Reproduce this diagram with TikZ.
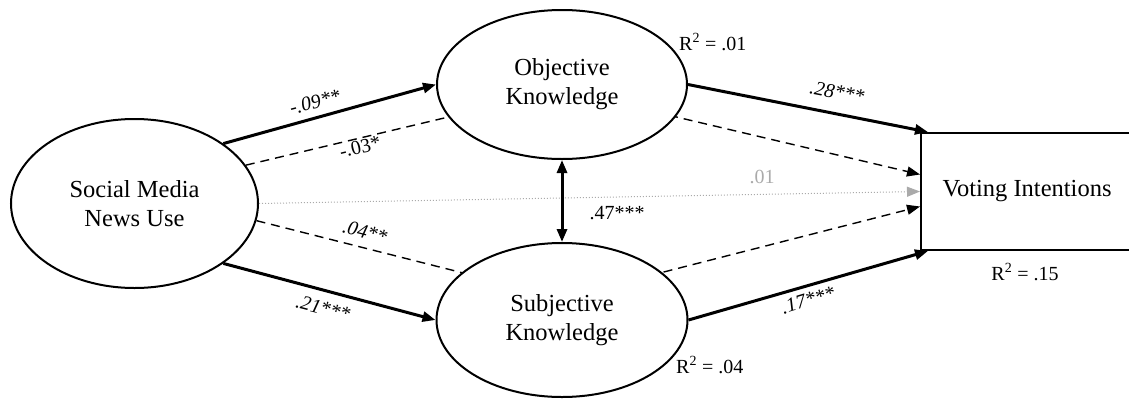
\documentclass[tikz,border=0pt]{standalone}
\usepackage{fontspec}
\setmainfont{Liberation Serif}
\usetikzlibrary{arrows.meta,calc,shapes.geometric}
\pgfdeclarelayer{bg}
\pgfsetlayers{bg,main}
\definecolor{lgray}{HTML}{AAAAAA}
\tikzset{
  latent/.style={ellipse,draw,line width=2pt,fill=white,inner sep=0pt,align=center,
    font=\fontsize{24.5}{29}\selectfont},
  observed/.style={rectangle,draw,line width=2pt,fill=white,inner sep=0pt,
    font=\fontsize{24.5}{29}\selectfont},
  tip/.style={-{Triangle[length=13pt,width=10pt]}},
  direct/.style={tip,line width=3pt},
  indirect/.style={tip,line width=1.4pt,dash pattern=on 9pt off 6pt},
  faint/.style={-{Triangle[length=13pt,width=10pt]},line width=1pt,lgray,dotted},
  coef/.style={font=\fontsize{20}{24}\selectfont,inner sep=1pt},
  coefit/.style={coef,font=\fontsize{20}{24}\selectfont\itshape},
}
\begin{document}
\begin{tikzpicture}[x=1pt,y=-1pt]
\useasboundingbox (0,0) rectangle (1129,399);
\clip (0,0) rectangle (1129,399);
% nodes
\node[latent,minimum width=247pt,minimum height=169pt] (sm) at (134.5,203.5) {Social Media\\News Use};
\node[latent,minimum width=250pt,minimum height=149pt] (ok) at (562,84.5) {Objective\\Knowledge};
\node[latent,minimum width=251pt,minimum height=154pt] (sk) at (562,320) {Subjective\\Knowledge};
\node[observed,minimum width=212pt,minimum height=117pt] (vi) at (1027,191.5) {Voting Intentions};
\coordinate (oka) at (562,90);
\coordinate (ska) at (562,298);
% indirect paths behind the ellipses
\begin{pgfonlayer}{bg}
\draw[indirect] (sm.19) -- (oka) -- ($(vi.west)+(0,-17)$);
\draw[indirect] (sm.-8) -- (ska) -- ($(vi.west)+(0,15)$);
\end{pgfonlayer}
% direct paths
\draw[faint] (sm.east) -- (vi.west);
\draw[direct] (sm.34) -- (ok.west);
\draw[direct] (sm.-34) -- (sk.west);
\draw[direct] (ok.east) -- ($(vi.north west)+(8,0)$);
\draw[direct] (sk.east) -- ($(vi.south west)+(8,0)$);
\draw[{Triangle[length=13pt,width=10pt]}-{Triangle[length=13pt,width=10pt]},line width=3pt] (ok.south) -- (sk.north);
% coefficients
\node[coefit,rotate=14.7] (l09) at (315,102) {-.09**};
\node[coef,rotate=13.5] (l03) at (360,147) {-.03*};
\node[coefit,rotate=-14.4] (l04) at (365,232) {.04**};
\node[coefit,rotate=-14.4] (l21) at (323,308) {.21***};
\node[coefit,rotate=-11] (l28) at (837,92) {.28***};
\node[coefit,rotate=16.7] (l17) at (808,300) {.17***};
\node[coef] (l47) at (617,213) {.47***};
\node[coef,text=lgray] (l01) at (762,177) {.01};
% R squared
\node[coef,anchor=west] (r1) at (678,42) {R\textsuperscript{2} = .01};
\node[coef,anchor=west] (r2) at (675,365) {R\textsuperscript{2} = .04};
\node[coef] (r3) at (1025,272) {R\textsuperscript{2} = .15};
\end{tikzpicture}
\end{document}
